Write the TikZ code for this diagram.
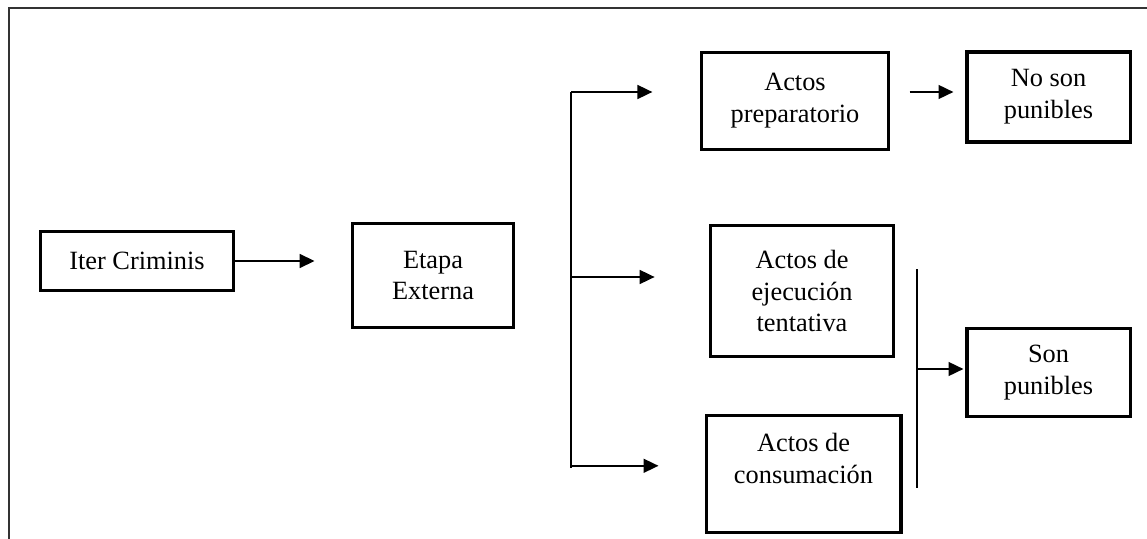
\documentclass[tikz,border=0pt]{standalone}
\usepackage{fontspec}
\setmainfont{Liberation Serif}
\usetikzlibrary{arrows.meta,positioning}

\tikzset{
	caja/.style={draw, line width=1.4pt, align=center, inner sep=0pt,
		font=\fontsize{12}{14.5}\selectfont},
	flecha/.style={line width=0.9pt, -{Triangle[length=6.8pt,width=6.3pt]}},
	barra/.style={line width=0.9pt}
}

\begin{document}
\begin{tikzpicture}[x=0.016cm, y=-0.016cm]
	\useasboundingbox (0,0) rectangle (1147,539);
	\clip (0,0) rectangle (1147,539);
	% marco
	\draw[line width=0.5pt, black!80] (9,8) rectangle (1200,600);
	
	\node[caja, minimum width=3.10cm, minimum height=0.93cm] (iter) at (137,261) {Iter Criminis};
	\node[caja, minimum width=2.59cm, minimum height=1.65cm] (etapa) at (433,275.5) {Etapa\\Externa};
	\node[caja, minimum width=2.98cm, minimum height=1.54cm] (prep) at (795,101) {Actos\\preparatorio};
	\node[caja, minimum width=2.61cm, minimum height=1.44cm] (noson) at (1048.5,97) {No son\\punibles};
	\node[caja, minimum width=2.94cm, minimum height=2.11cm] (ejec) at (802,291) {Actos de\\ejecución\\tentativa};
	\node[caja, minimum width=3.12cm, minimum height=1.86cm] (cons) at (803.5,474) {Actos de\\consumación\\\mbox{}};
	\node[caja, minimum width=2.61cm, minimum height=1.42cm] (son) at (1048.5,372.5) {Son\\punibles};
	
	\coordinate (b1) at (571,92);
	\coordinate (b2) at (571,277);
	\coordinate (b3) at (571,468);
	\coordinate (r1) at (917,269);
	\coordinate (r2) at (917,488);
	\coordinate (rm) at (917,369);
	
	\draw[flecha, shorten >=0.576cm] (iter.east) -- (iter.east -| etapa.west);
	
	\draw[barra] (b1) -- (b3);
	\draw[flecha, shorten >=0.768cm] (b1) -- (b1 -| prep.west);
	\draw[flecha, shorten >=0.864cm] (b2) -- (b2 -| ejec.west);
	\draw[flecha, shorten >=0.736cm] ([yshift=1pt]b3) -- ([yshift=1pt]b3 -| cons.west);
	
	\draw[flecha, shorten <=0.32cm, shorten >=0.192cm] (prep.east |- b1) -- (noson.west |- b1);
	
	\draw[barra] (r1) -- (r2);
	\draw[flecha, shorten >=0.032cm] (rm) -- (rm -| son.west);
\end{tikzpicture}
\end{document}
